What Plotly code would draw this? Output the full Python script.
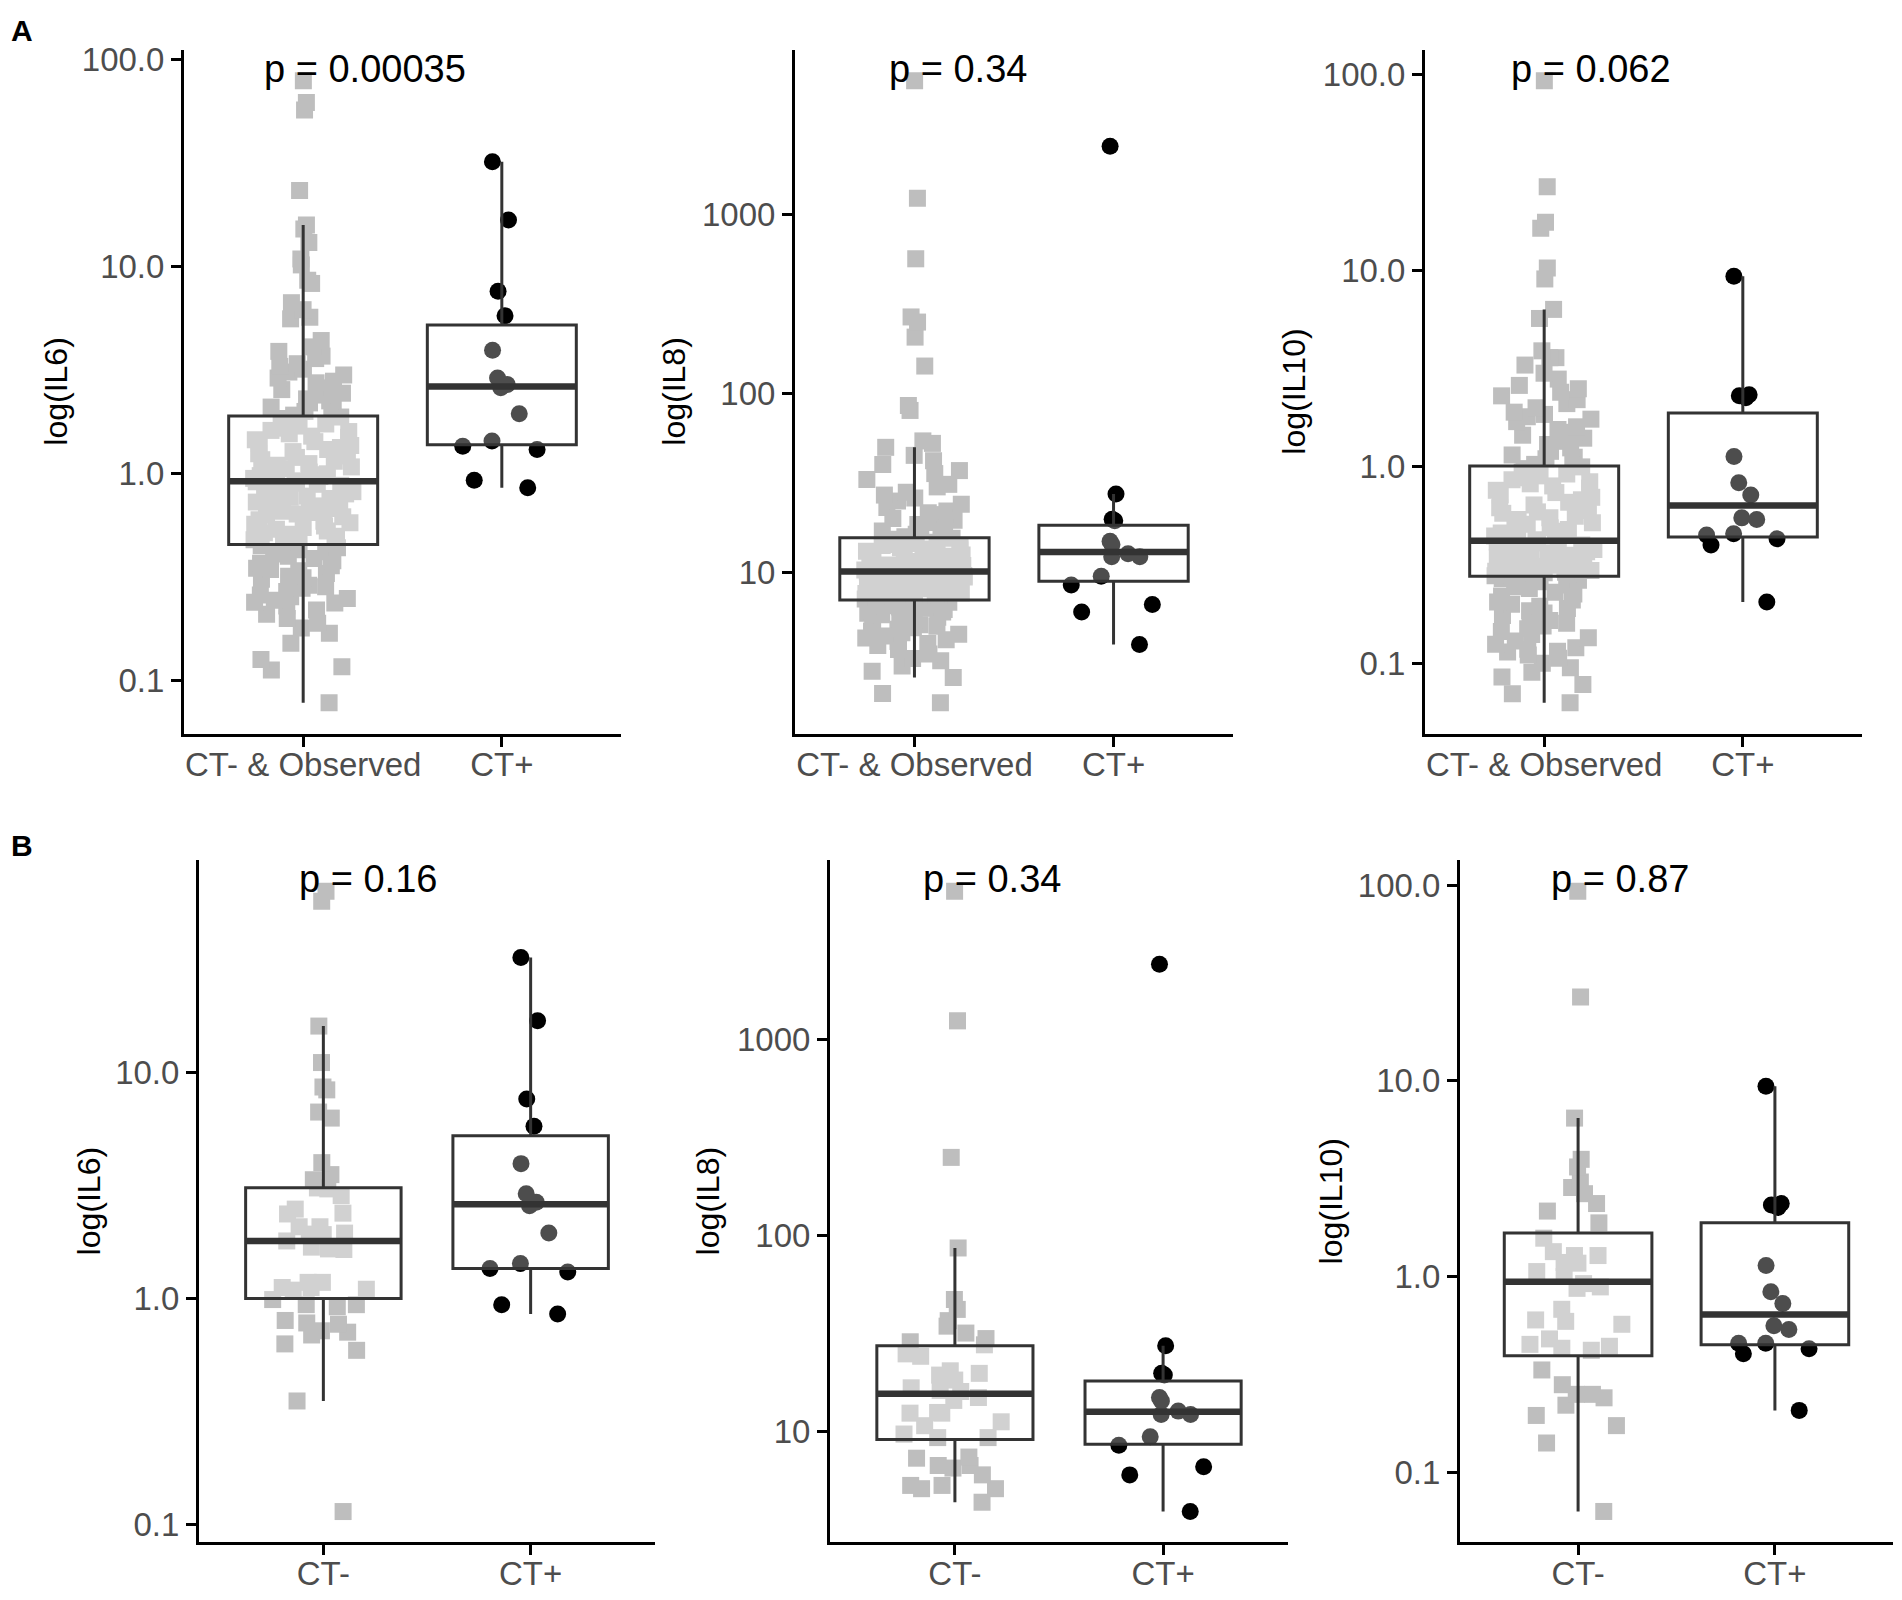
import plotly.graph_objects as go

# The page body keeps its default 8 px margin, so the figure is 16 px smaller
# than the window and all reference pixel positions are shifted by 8 px.
PAGE_W, PAGE_H = 1902, 1600
OFF = 8
W, H = PAGE_W - 2 * OFF, PAGE_H - 2 * OFF
FONT = "Liberation Sans, Arial, Helvetica, sans-serif"

# ---------------- categories ----------------
cats_a = ["CT- & Observed", "CT+"]
cats_b = ["CT-", "CT+"]

# ---------------- tick labels ----------------
ticks_il6 = [0.1, 1, 10, 100]
ticks_il6_text = ["0.1", "1.0", "10.0", "100.0"]
ticks_il8 = [10, 100, 1000]
ticks_il8_text = ["10", "100", "1000"]
ticks_il10 = [0.1, 1, 10, 100]
ticks_il10_text = ["0.1", "1.0", "10.0", "100.0"]

# ---------------- panel A : IL6 ----------------
il6_a_neg = [79, 62, 57, 23.3, 15.9, 15.2, 13.1, 10.9, 10.2, 8.6, 8.3, 6.7, 6.2, 5.7, 5.6, 4.4,
             4.1, 3.9, 3.7, 3.6, 3.4, 3.3, 3.2, 3.1, 3.0, 2.9, 2.8, 2.75, 2.6, 2.55, 2.45, 2.4,
             2.3, 2.25, 2.2, 2.1, 2.05, 2.0, 1.95, 1.92,
             1.88, 1.85, 1.8, 1.78, 1.74, 1.7, 1.66, 1.62, 1.6, 1.56, 1.52, 1.5, 1.46, 1.43,
             1.4, 1.37, 1.34, 1.31, 1.28, 1.25, 1.22, 1.2, 1.17, 1.15, 1.12, 1.1, 1.08, 1.06,
             1.04, 1.02, 1.0, 0.99, 0.98, 0.97, 0.96, 0.95, 0.945, 0.94, 0.93, 0.925,
             0.915, 0.9, 0.89, 0.88, 0.86, 0.85, 0.84, 0.82, 0.81, 0.8, 0.78, 0.77, 0.76, 0.74,
             0.73, 0.72, 0.7, 0.69, 0.68, 0.66, 0.65, 0.64, 0.63, 0.62, 0.6, 0.59, 0.58, 0.57,
             0.56, 0.55, 0.54, 0.53, 0.52, 0.51, 0.5, 0.49, 0.48, 0.47, 0.465, 0.46,
             0.45, 0.44, 0.43, 0.42, 0.41, 0.4, 0.39, 0.38, 0.37, 0.36, 0.35, 0.345, 0.34, 0.33,
             0.32, 0.315, 0.31, 0.3, 0.29, 0.285, 0.28, 0.27, 0.26, 0.255, 0.25, 0.245, 0.24,
             0.238, 0.23, 0.22, 0.21, 0.2, 0.19, 0.18, 0.17, 0.152, 0.127, 0.117, 0.113, 0.0785]
il6_a_pos = [32.1, 16.8, 7.6, 5.8, 3.95, 2.9, 2.7, 2.6, 1.95, 1.44, 1.36, 1.31, 0.93, 0.857]
il6_a_q1 = [0.456, 1.38]
il6_a_med = [0.92, 2.64]
il6_a_q3 = [1.90, 5.23]
il6_a_lo = [0.0785, 0.857]
il6_a_hi = [15.9, 32.1]

# ---------------- panel A : IL8 ----------------
il8_a_neg = [5570, 1230, 564, 267, 250, 206, 142, 85.5, 80.2, 54.2, 52.5,
             49.9, 45, 42, 40, 37, 35.6, 33, 31, 30, 28, 27, 26, 25, 24, 23, 22, 21.5, 21,
             20, 19.5, 19, 18.5, 18, 17.5, 17, 16.6, 16.3, 16, 15.8,
             15.5, 15.3, 15.1, 14.9, 14.7, 14.5, 14.3, 14.1, 13.9, 13.7, 13.5, 13.3, 13.1,
             12.9, 12.7, 12.5, 12.3, 12.1, 12.0, 11.8, 11.7, 11.5, 11.4, 11.2, 11.1, 11.0,
             10.9, 10.8, 10.7, 10.6, 10.55, 10.5, 10.45, 10.4, 10.35, 10.3, 10.25, 10.2,
             10.15, 10.12,
             10.05, 9.95, 9.9, 9.8, 9.7, 9.6, 9.5, 9.4, 9.3, 9.2, 9.1, 9.0, 8.9, 8.8, 8.7,
             8.6, 8.5, 8.4, 8.3, 8.2, 8.1, 8.0, 7.95, 7.9, 7.8, 7.7, 7.65, 7.6, 7.5, 7.45,
             7.4, 7.35, 7.3, 7.25, 7.2, 7.15, 7.1, 7.08, 7.05, 7.02,
             6.95, 6.8, 6.7, 6.6, 6.5, 6.4, 6.3, 6.2, 6.1, 6.0, 5.9, 5.8, 5.7, 5.6, 5.5,
             5.4, 5.3, 5.2, 5.1, 5.0, 4.9, 4.8, 4.7, 4.6, 4.5, 4.4, 4.3, 4.2, 4.1, 4.0,
             3.9, 3.7, 3.5, 3.3, 3.2, 3.0, 2.8, 2.58, 2.1, 1.87]
il8_a_pos = [2400, 27.4, 19.8, 19.4, 14.9, 14.3, 12.7, 12.2, 12.2, 9.5, 8.5, 6.6, 6.0, 3.95]
il8_a_q1 = [7.0, 8.9]
il8_a_med = [10.1, 13.0]
il8_a_q3 = [15.6, 18.3]
il8_a_lo = [2.58, 3.95]
il8_a_hi = [49.9, 27.4]

# ---------------- panel A : IL10 ----------------
il10_a_neg = [92.6, 26.7, 17.6, 16.4, 10.3, 9.06,
              6.34, 5.7, 3.9, 3.6, 3.6, 3.3, 3.0, 2.8, 2.6, 2.5, 2.4, 2.3, 2.2, 2.1, 2.0,
              1.9, 1.85, 1.8, 1.75, 1.7, 1.6, 1.55, 1.5, 1.45, 1.4, 1.35, 1.3, 1.25, 1.2,
              1.15, 1.12, 1.1, 1.06, 1.03,
              1.0, 0.98, 0.96, 0.94, 0.92, 0.9, 0.88, 0.86, 0.84, 0.82, 0.8, 0.78, 0.76,
              0.74, 0.72, 0.7, 0.68, 0.66, 0.64, 0.62, 0.6, 0.59, 0.58, 0.56, 0.55, 0.54,
              0.52, 0.51, 0.5, 0.49, 0.48, 0.47, 0.46, 0.455, 0.45, 0.445, 0.44, 0.435,
              0.43, 0.425,
              0.415, 0.41, 0.405, 0.4, 0.395, 0.39, 0.385, 0.38, 0.375, 0.37, 0.365, 0.36,
              0.355, 0.35, 0.345, 0.34, 0.335, 0.33, 0.325, 0.32, 0.316, 0.312, 0.308,
              0.305, 0.302, 0.3, 0.297, 0.294, 0.291, 0.289, 0.287, 0.285, 0.283, 0.282,
              0.281, 0.28, 0.279, 0.278, 0.2775, 0.277,
              0.27, 0.265, 0.26, 0.25, 0.245, 0.24, 0.23, 0.225, 0.22, 0.21, 0.205, 0.2,
              0.195, 0.19, 0.185, 0.18, 0.175, 0.17, 0.165, 0.16, 0.155, 0.15, 0.145, 0.14,
              0.135, 0.13, 0.125, 0.12, 0.118, 0.115, 0.114, 0.11, 0.106, 0.1, 0.095, 0.09,
              0.085, 0.078, 0.07, 0.063]
il10_a_pos = [9.35, 2.3, 2.25, 2.33, 1.13, 0.83, 0.72, 0.55, 0.54, 0.456, 0.43, 0.45, 0.40, 0.205]
il10_a_q1 = [0.277, 0.44]
il10_a_med = [0.42, 0.635]
il10_a_q3 = [1.01, 1.88]
il10_a_lo = [0.063, 0.205]
il10_a_hi = [6.34, 9.35]

# ---------------- panel B : IL6 ----------------
il6_b_neg = [63.7, 57.5, 16.1, 11.1, 8.4, 8.65, 6.7, 6.3, 4.0, 3.54, 3.36, 3.09, 3.06, 2.86,
             2.49, 2.39, 2.37, 2.08, 2.08, 1.95, 1.93, 1.92, 1.80, 1.65, 1.66, 1.69, 1.12,
             1.18, 1.10, 1.09, 1.18, 1.12, 0.99, 0.94, 0.92, 0.94, 0.80, 0.77, 0.78, 0.72,
             0.71, 0.69, 0.59, 0.63, 0.352, 0.114]
il6_b_pos = [32.4, 17.0, 7.65, 5.8, 3.96, 2.91, 2.58, 2.67, 1.95, 1.43, 1.36, 1.31, 0.94, 0.855]
il6_b_q1 = [1.0, 1.36]
il6_b_med = [1.80, 2.62]
il6_b_q3 = [3.1, 5.26]
il6_b_lo = [0.352, 0.855]
il6_b_hi = [16.1, 32.4]

# ---------------- panel B : IL8 ----------------
il8_b_neg = [5740, 1250, 251, 86.5, 47.2, 42, 36.8, 34.5, 31.8, 29.8, 28.7, 27.7, 24.9, 24.2,
             19.8, 20.4, 18.3, 19.4, 16.0, 16.7, 16.2, 14.9, 12.4, 12.5, 14.4, 12.4, 10.7,
             11.2, 9.3, 9.7, 9.3, 7.3, 6.5, 6.7, 6.0, 7.4, 6.7, 5.3, 5.1, 5.3, 4.35, 5.1]
il8_b_pos = [2430, 27.4, 19.8, 19.4, 14.9, 14.3, 12.2, 12.7, 12.2, 9.4, 8.5, 6.6, 6.0, 3.9]
il8_b_q1 = [9.1, 8.6]
il8_b_med = [15.6, 12.6]
il8_b_q3 = [27.4, 18.1]
il8_b_lo = [4.35, 3.9]
il8_b_hi = [86.5, 27.4]

# ---------------- panel B : IL10 ----------------
il10_b_neg = [93, 26.8, 6.45, 3.63, 3.97, 3.04, 2.85, 2.85, 2.65, 2.36, 2.16, 1.88, 1.57,
              1.34, 1.28, 1.17, 1.18, 1.28, 1.06, 1.0, 0.885, 0.92, 0.87, 0.68, 0.60, 0.59,
              0.57, 0.48, 0.45, 0.43, 0.44, 0.42, 0.333, 0.28, 0.24, 0.25, 0.25, 0.22,
              0.195, 0.173, 0.141, 0.063]
il10_b_pos = [9.38, 2.25, 2.36, 2.32, 1.14, 0.835, 0.728, 0.536, 0.561, 0.456, 0.427, 0.456, 0.403, 0.207]
il10_b_q1 = [0.394, 0.448]
il10_b_med = [0.94, 0.64]
il10_b_q3 = [1.67, 1.88]
il10_b_lo = [0.063, 0.207]
il10_b_hi = [6.45, 9.38]

p_labels = ["p = 0.00035", "p = 0.34", "p = 0.062", "p = 0.16", "p = 0.34", "p = 0.87"]
y_titles = ["log(IL6)", "log(IL8)", "log(IL10)", "log(IL6)", "log(IL8)", "log(IL10)"]

# ---------------- layout geometry (page pixels of the reference) ----------------
# (x_left, x_right, y_top, y_bottom) of each panel's axes
panel_px = [(184, 621, 42, 734), (795, 1233, 42, 734), (1425, 1862, 42, 734),
            (199, 655, 862, 1552), (830, 1288, 862, 1552), (1460, 1893, 862, 1552)]
y_ranges = [(-1.255, 2.048), (0.098, 3.920), (-1.359, 2.125),
            (-1.080, 1.941), (0.433, 3.917), (-1.359, 2.127)]
ytitle_x = [56, 674, 1294, 89, 708, 1331]
p_x = [262, 887, 1509, 297, 921, 1549]
p_y = [62, 62, 62, 881, 881, 881]


def fx(px):
    return (px - OFF) / W


def fy(py):
    return 1 - (py - OFF) / H


panels = [
    (cats_a, il6_a_neg, il6_a_pos, il6_a_q1, il6_a_med, il6_a_q3, il6_a_lo, il6_a_hi, ticks_il6, ticks_il6_text),
    (cats_a, il8_a_neg, il8_a_pos, il8_a_q1, il8_a_med, il8_a_q3, il8_a_lo, il8_a_hi, ticks_il8, ticks_il8_text),
    (cats_a, il10_a_neg, il10_a_pos, il10_a_q1, il10_a_med, il10_a_q3, il10_a_lo, il10_a_hi, ticks_il10, ticks_il10_text),
    (cats_b, il6_b_neg, il6_b_pos, il6_b_q1, il6_b_med, il6_b_q3, il6_b_lo, il6_b_hi, ticks_il6, ticks_il6_text),
    (cats_b, il8_b_neg, il8_b_pos, il8_b_q1, il8_b_med, il8_b_q3, il8_b_lo, il8_b_hi, ticks_il8, ticks_il8_text),
    (cats_b, il10_b_neg, il10_b_pos, il10_b_q1, il10_b_med, il10_b_q3, il10_b_lo, il10_b_hi, ticks_il10, ticks_il10_text),
]

GRAY = "#BEBEBE"
BOXLINE = "#333333"
JIT = 0.67

fig = go.Figure()
layout_axes = {}
annotations = []

for i, (cats, neg, pos, q1, med, q3, lo, hi, tv, tt) in enumerate(panels):
    n = i + 1
    xa = "x" if n == 1 else f"x{n}"
    ya = "y" if n == 1 else f"y{n}"
    # jittered points (plotly's own jitter)
    fig.add_trace(go.Box(x=[cats[0]] * len(neg), y=neg, xaxis=xa, yaxis=ya,
                         boxpoints="all", jitter=JIT, pointpos=0,
                         fillcolor="rgba(0,0,0,0)", line=dict(width=0, color="rgba(0,0,0,0)"),
                         marker=dict(symbol="square", size=17, color=GRAY, line=dict(width=0)),
                         showlegend=False, hoverinfo="skip"))
    fig.add_trace(go.Box(x=[cats[1]] * len(pos), y=pos, xaxis=xa, yaxis=ya,
                         boxpoints="all", jitter=JIT, pointpos=0,
                         fillcolor="rgba(0,0,0,0)", line=dict(width=0, color="rgba(0,0,0,0)"),
                         marker=dict(symbol="circle", size=17, color="#000000", line=dict(width=0)),
                         showlegend=False, hoverinfo="skip"))
    # boxes (precomputed on log scale, ggplot style)
    fig.add_trace(go.Box(x=cats, q1=q1, median=med, q3=q3, lowerfence=lo, upperfence=hi,
                         xaxis=xa, yaxis=ya, boxpoints=False, whiskerwidth=0,
                         fillcolor="rgba(255,255,255,0.3)", line=dict(width=3, color=BOXLINE),
                         showlegend=False, hoverinfo="skip"))
    # thicker median bar
    fig.add_trace(go.Box(x=cats, q1=med, median=med, q3=med, lowerfence=med, upperfence=med,
                         xaxis=xa, yaxis=ya, boxpoints=False, whiskerwidth=0,
                         fillcolor="rgba(0,0,0,0)", line=dict(width=6.5, color=BOXLINE),
                         showlegend=False, hoverinfo="skip"))

    x0, x1, yt, yb = panel_px[i]
    axis_common = dict(showline=True, linecolor="black", linewidth=3, ticks="outside",
                       ticklen=10, tickwidth=3, tickcolor="black",
                       tickfont=dict(family=FONT, size=33, color="#4D4D4D"),
                       showgrid=False, zeroline=False, fixedrange=True)
    layout_axes["xaxis" if n == 1 else f"xaxis{n}"] = dict(
        axis_common, domain=[fx(x0), fx(x1)], anchor=ya, type="category",
        categoryorder="array", categoryarray=cats, range=[-0.6, 1.6],
        ticklabelstandoff=-10)
    layout_axes["yaxis" if n == 1 else f"yaxis{n}"] = dict(
        axis_common, domain=[fy(yb), fy(yt)], anchor=xa, type="log",
        range=list(y_ranges[i]), tickvals=tv, ticktext=tt, ticklabelstandoff=0)

    annotations.append(dict(text=y_titles[i], xref="paper", yref="paper",
                            x=fx(ytitle_x[i]), y=fy((yt + yb) / 2), textangle=-90,
                            showarrow=False, xanchor="center", yanchor="middle",
                            font=dict(family=FONT, size=32, color="black")))
    annotations.append(dict(text=p_labels[i], xref="paper", yref="paper",
                            x=fx(p_x[i]), y=fy(p_y[i]), showarrow=False,
                            xanchor="left", yanchor="middle",
                            font=dict(family=FONT, size=38, color="black")))

annotations.append(dict(text="<b>A</b>", xref="paper", yref="paper", x=fx(9), y=fy(23),
                        showarrow=False, xanchor="left", yanchor="middle",
                        font=dict(family=FONT, size=30, color="black")))
annotations.append(dict(text="<b>B</b>", xref="paper", yref="paper", x=fx(9), y=fy(847),
                        showarrow=False, xanchor="left", yanchor="middle",
                        font=dict(family=FONT, size=30, color="black")))

fig.update_layout(width=W, height=H, margin=dict(l=0, r=0, t=0, b=0),
                  paper_bgcolor="white", plot_bgcolor="white",
                  boxmode="overlay", boxgap=0.25, boxgroupgap=0, showlegend=False,
                  annotations=annotations, **layout_axes)

fig.write_html("out.html")
